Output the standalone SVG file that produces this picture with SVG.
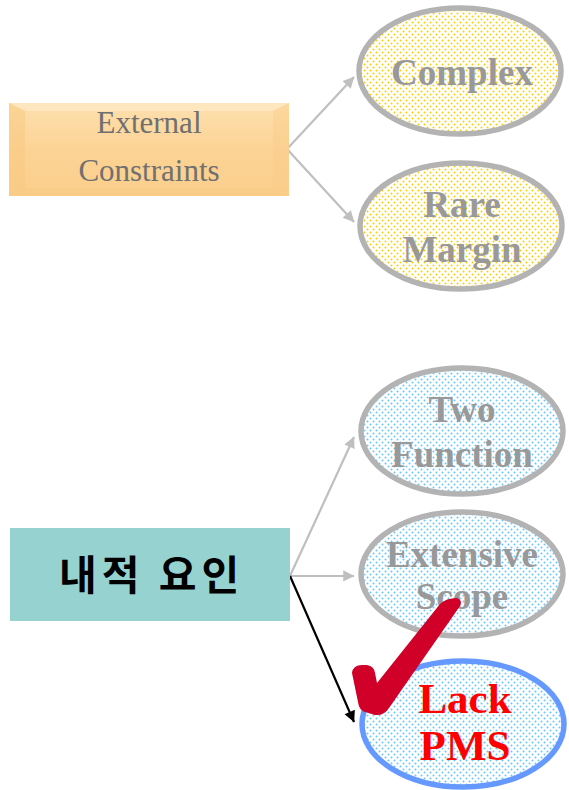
<svg xmlns="http://www.w3.org/2000/svg" width="569" height="790" viewBox="0 0 569 790">
<style>
.conn{fill:none;stroke-width:2.2}
.gray{stroke:#bfbfbf}
.blk{stroke:#000}
.ell{stroke-width:5.5}
.et{font-family:"Liberation Serif",serif;font-weight:bold;font-size:37px;fill:#999999;text-anchor:middle}
.rt{font-family:"Liberation Serif",serif;font-weight:bold;font-size:43px;fill:#ff0000;text-anchor:middle}
</style>
<defs>
<pattern id="dy" width="6" height="6" patternUnits="userSpaceOnUse">
<rect width="6" height="6" fill="#ffffff"/>
<circle cx="1.5" cy="1.5" r="1" fill="#ffcc00"/>
<circle cx="4.5" cy="4.5" r="1" fill="#ffcc00"/>
</pattern>
<pattern id="db" width="6" height="6" patternUnits="userSpaceOnUse">
<rect width="6" height="6" fill="#ffffff"/>
<circle cx="1.5" cy="1.5" r="1" fill="#66c6ff"/>
<circle cx="4.5" cy="4.5" r="1" fill="#66c6ff"/>
</pattern>
<linearGradient id="og" x1="0" y1="0" x2="0" y2="1">
<stop offset="0" stop-color="#fde0ae"/>
<stop offset="0.5" stop-color="#fcd395"/>
<stop offset="1" stop-color="#fbcf8c"/>
</linearGradient>
<marker id="ag" viewBox="0 0 10 10" refX="9" refY="5" markerWidth="7" markerHeight="7" orient="auto" markerUnits="userSpaceOnUse" style="overflow:visible">
<path d="M0,0 L10,5 L0,10 z" fill="#bfbfbf" transform="scale(1.6) translate(-4,-1.9)"/>
</marker>
<marker id="ab" viewBox="0 0 10 10" refX="9" refY="5" markerWidth="7" markerHeight="7" orient="auto" markerUnits="userSpaceOnUse" style="overflow:visible">
<path d="M0,0 L10,5 L0,10 z" fill="#000000" transform="scale(1.6) translate(-4,-1.9)"/>
</marker>
</defs>

<g id="connectors">
<path class="conn gray" d="M287,149 L354,77" marker-end="url(#ag)"/>
<path class="conn gray" d="M287,149 L354,222" marker-end="url(#ag)"/>
<path class="conn gray" d="M290,576 L354,437" marker-end="url(#ag)"/>
<path class="conn gray" d="M290,576 L354,576" marker-end="url(#ag)"/>
<path class="conn blk" d="M290,576 L354,722" marker-end="url(#ab)"/>
</g>

<g id="external">
<rect x="9" y="103" width="280" height="93" fill="url(#og)"/>
<polygon points="9,103 289,103 273,111 25,111" fill="#fee9c6" opacity="0.7"/>
<polygon points="9,103 25,111 25,188 9,196" fill="#f7c77f" opacity="0.5"/>
<polygon points="289,103 273,111 273,188 289,196" fill="#f9cb88" opacity="0.4"/>
<polygon points="9,196 25,188 273,188 289,196" fill="#f7c881" opacity="0.4"/>
<text x="149" y="133" font-family="Liberation Serif,serif" font-size="31" fill="#707070" text-anchor="middle">External</text>
<text x="149" y="181" font-family="Liberation Serif,serif" font-size="31" fill="#707070" text-anchor="middle">Constraints</text>
</g>

<g id="complex">
<ellipse class="ell" cx="460" cy="71" rx="101" ry="63" fill="url(#dy)" stroke="#b3b3b3"/>
<text class="et" x="462" y="85">Complex</text>
</g>

<g id="rare-margin">
<ellipse class="ell" cx="461" cy="226" rx="101" ry="63" fill="url(#dy)" stroke="#b3b3b3"/>
<text class="et" x="462" y="217">Rare</text>
<text class="et" x="462" y="262">Margin</text>
</g>

<g id="internal">
<rect x="10" y="528" width="280" height="93" fill="#96d3d0"/>
<text x="59" y="590" font-family="Noto Sans CJK KR,sans-serif" font-weight="bold" font-size="41" letter-spacing="5" fill="#000">내적 요인</text>
</g>

<g id="two-function">
<ellipse class="ell" cx="462" cy="431" rx="101" ry="63" fill="url(#db)" stroke="#b3b3b3"/>
<text class="et" x="462" y="422">Two</text>
<text class="et" x="462" y="467">Function</text>
</g>

<g id="extensive-scope">
<ellipse class="ell" cx="462" cy="574" rx="101" ry="62" fill="url(#db)" stroke="#b3b3b3"/>
<text class="et" x="462" y="567">Extensive</text>
<text class="et" x="462" y="609">Scope</text>
</g>

<g id="lack-pms">
<ellipse class="ell" cx="463" cy="724" rx="101" ry="63" fill="url(#db)" stroke="#6699ff"/>
<text class="rt" x="465" y="713">Lack</text>
<text class="rt" x="465" y="760">PMS</text>
</g>

<g id="checkmark">
<path d="M352,673 Q353,665 362,665 L367,665 Q374,666 375,673 L377,683 L440,604 Q446,598 457,598 Q463,600 460,606 L389,708 Q384,716 375,715 L365,712 Q359,710 358,702 Z" fill="#d00028"/>
</g>
</svg>
